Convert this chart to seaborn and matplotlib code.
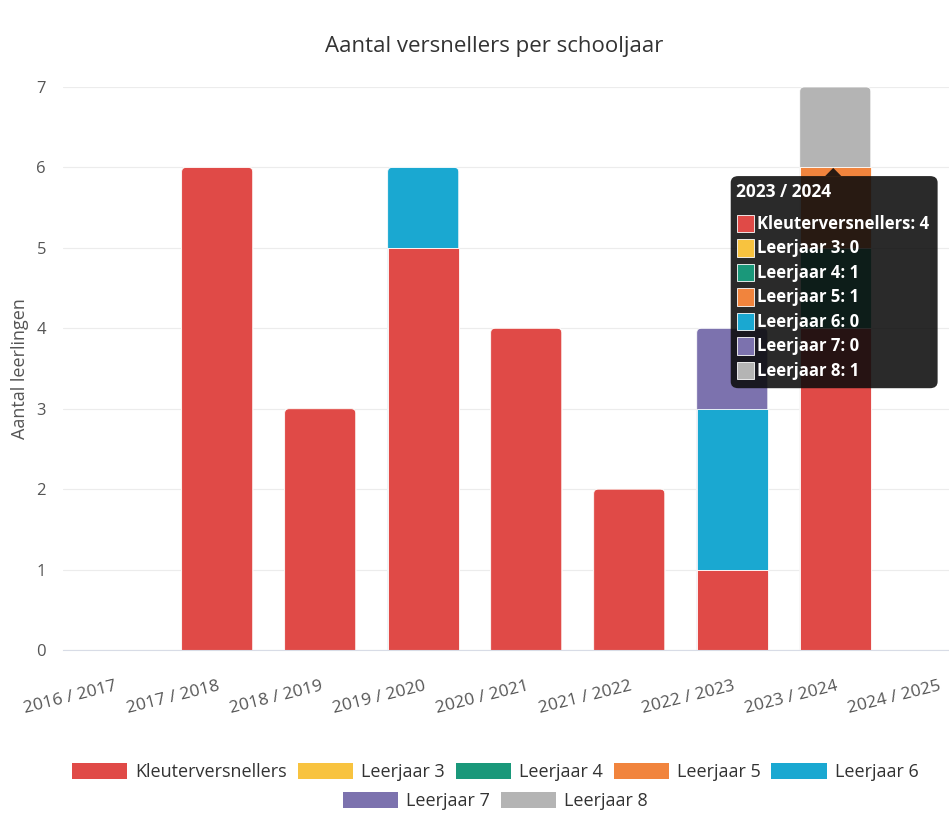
import numpy as np
import pandas as pd
import seaborn as sns
import matplotlib
matplotlib.use("Agg")
import matplotlib.pyplot as plt
from matplotlib.patches import Patch, FancyBboxPatch, Polygon

# data
jaren = ['2016 / 2017', '2017 / 2018', '2018 / 2019', '2019 / 2020', '2020 / 2021',
         '2021 / 2022', '2022 / 2023', '2023 / 2024', '2024 / 2025']
series = ['Kleuterversnellers', 'Leerjaar 3', 'Leerjaar 4', 'Leerjaar 5',
          'Leerjaar 6', 'Leerjaar 7', 'Leerjaar 8']
kleuter = [0, 6, 3, 5, 4, 2, 1, 4, 0]
leerjaar3 = [0, 0, 0, 0, 0, 0, 0, 0, 0]
leerjaar4 = [0, 0, 0, 0, 0, 0, 0, 1, 0]
leerjaar5 = [0, 0, 0, 0, 0, 0, 0, 1, 0]
leerjaar6 = [0, 0, 0, 1, 0, 0, 2, 0, 0]
leerjaar7 = [0, 0, 0, 0, 0, 0, 1, 0, 0]
leerjaar8 = [0, 0, 0, 0, 0, 0, 0, 1, 0]
kleuren = ['#e04a47', '#f8c33f', '#1a987a', '#f1843d', '#1aa8d1', '#7c72ae', '#b4b4b4']
tooltip_jaar = '2023 / 2024'

df = pd.DataFrame({'jaar': jaren, 'Kleuterversnellers': kleuter, 'Leerjaar 3': leerjaar3,
                   'Leerjaar 4': leerjaar4, 'Leerjaar 5': leerjaar5, 'Leerjaar 6': leerjaar6,
                   'Leerjaar 7': leerjaar7, 'Leerjaar 8': leerjaar8})
cum = df[series].cumsum(axis=1)
cum['jaar'] = df['jaar']
totaal = cum[series[-1]].values

sns.set_style("white")
plt.rcParams['font.family'] = ['Open Sans', 'DejaVu Sans']

fig = plt.figure(figsize=(9.49, 8.19), dpi=100)
ax = fig.add_axes([0.066, 0.2063, 0.977, 0.6875])
ax.set_xlim(-0.5, 8.5)
ax.set_ylim(0, 7)

# stacked bars: draw the cumulative totals from top series down
for s, c in reversed(list(zip(series, kleuren))):
    n0 = len(ax.patches)
    sns.barplot(x='jaar', y=s, data=cum, color=c, width=0.69, ax=ax,
                edgecolor='white', linewidth=0.6, saturation=1, order=jaren)
    # round the top corners where this segment is the top of the stack
    for p in ax.patches[n0:]:
        h = p.get_height()
        k = int(round(p.get_x() + p.get_width() / 2))
        if h > 0 and abs(h - totaal[k]) < 1e-9:
            r = FancyBboxPatch((p.get_x(), -0.2), p.get_width(), h + 0.2,
                               boxstyle='round,pad=0,rounding_size=0.045',
                               mutation_aspect=1.25, facecolor=c, edgecolor='white',
                               linewidth=0.6, zorder=p.get_zorder())
            p.set_visible(False)
            ax.add_patch(r)

ax.set_xlim(-0.5, 8.5)
ax.set_ylim(0, 7)
ax.set_yticks(range(0, 8))
ax.yaxis.grid(True, color='#ececec', linewidth=0.8)
ax.set_axisbelow(True)
for sp in ['top', 'right', 'left']:
    ax.spines[sp].set_visible(False)
ax.spines['bottom'].set_color('#d8dce6')
ax.spines['bottom'].set_zorder(5)
ax.tick_params(axis='y', length=0, labelsize=12, labelcolor='#555555', pad=12)
ax.tick_params(axis='x', length=0, labelsize=12.5, labelcolor='#555555', pad=20)
ax.set_xticks(range(len(jaren)))
ax.set_xticklabels(jaren, rotation=14, ha='right', rotation_mode='anchor')
ax.set_xlabel('')
ax.set_ylabel('Aantal leerlingen', fontsize=13, color='#555555')
ax.yaxis.set_label_coords(-0.036, 0.5)

fig.text(0.521, 0.943, 'Aantal versnellers per schooljaar', ha='center', va='center',
         fontsize=16, color='#333333')

# legend in two centred rows
handles = [Patch(facecolor=c, edgecolor='none') for c in kleuren]
kw = dict(frameon=False, fontsize=13, handlelength=3.05, handleheight=1.0,
          handletextpad=0.45, columnspacing=0.6, labelcolor='#333333', loc='center')
fig.legend(handles[:5], series[:5], ncol=5, bbox_to_anchor=(0.522, 0.057), **kw)
fig.legend(handles[5:], series[5:], ncol=2, bbox_to_anchor=(0.522, 0.022), **kw)

# hover tooltip for 2023 / 2024
i = jaren.index(tooltip_jaar)
fig.add_artist(FancyBboxPatch((0.770, 0.526), 0.218, 0.259,
                              boxstyle='round,pad=0,rounding_size=0.008',
                              transform=fig.transFigure, facecolor='#0c0c0c',
                              edgecolor='none', alpha=0.88, zorder=10))
fig.add_artist(Polygon([[0.878, 0.795], [0.8865, 0.785], [0.8695, 0.785]], closed=True,
                       transform=fig.transFigure, facecolor='#0c0c0c', edgecolor='none',
                       alpha=0.88, zorder=10))
fig.text(0.776, 0.765, tooltip_jaar, color='white', fontsize=12.5, fontweight='bold',
         va='center', ha='left', zorder=11)
for k, (s, c) in enumerate(zip(series, kleuren)):
    y = 0.727 - k * 0.0299
    fig.add_artist(FancyBboxPatch((0.777, y - 0.0105), 0.018, 0.021, boxstyle='square,pad=0',
                                  transform=fig.transFigure, facecolor=c, edgecolor='white',
                                  linewidth=0.6, zorder=11))
    fig.text(0.798, y, f'{s}: {df[s][i]}', color='white', fontsize=12, fontweight='bold',
             va='center', ha='left', zorder=11)

fig.savefig('out.png', dpi=100, facecolor='white')
